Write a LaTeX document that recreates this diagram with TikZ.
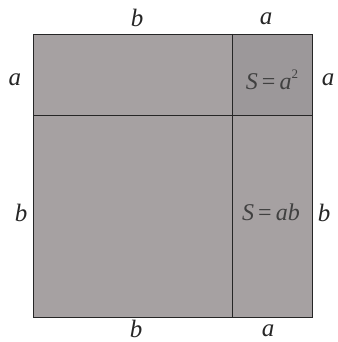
\documentclass[tikz,border=0pt]{standalone}
\usepackage{fontspec}
\setmainfont{Liberation Serif}
\begin{document}
\begin{tikzpicture}[x=1pt,y=-1pt,
  lbl/.style={font=\fontsize{25}{28}\selectfont\itshape, text=black!85, inner sep=0pt},
  area/.style={font=\fontsize{24}{28}\selectfont, text=black!75, inner sep=0pt},
  edge/.style={draw=black!85, line width=0.9pt}]
\fill[white] (0,0) rectangle (337,342);
\useasboundingbox (0,0) rectangle (337,342);
\coordinate (TL) at (33,34);
\coordinate (BR) at (312,317);
\coordinate (V1) at (232,34);
\coordinate (V2) at (232,317);
\coordinate (H1) at (33,115);
\coordinate (H2) at (312,115);
\fill[fill={rgb,255:red,166;green,161;blue,162}] (TL) rectangle (BR);
\fill[fill={rgb,255:red,156;green,152;blue,154}] (V1) rectangle (H2);
\draw[edge] (TL) rectangle (BR);
\draw[edge] (V1) -- (V2);
\draw[edge] (H1) -- (H2);
\node[lbl] (tb) at (137,18) {b};
\node[lbl] (ta) at (266,19) {a};
\node[lbl] (la) at (15,80) {a};
\node[lbl] (ra) at (328,80) {a};
\node[lbl] (lb) at (21,213) {b};
\node[lbl] (rb) at (324,213) {b};
\node[lbl] (bb) at (136,329) {b};
\node[lbl] (ba) at (268,331) {a};
\node[area] (s1) at (272,80) {\textit{S}\,=\,\textit{a}\raisebox{0.95ex}{\fontsize{13}{14}\selectfont 2}};
\node[area] (s2) at (271,212) {\textit{S}\,=\,\textit{ab}};
\end{tikzpicture}
\end{document}
